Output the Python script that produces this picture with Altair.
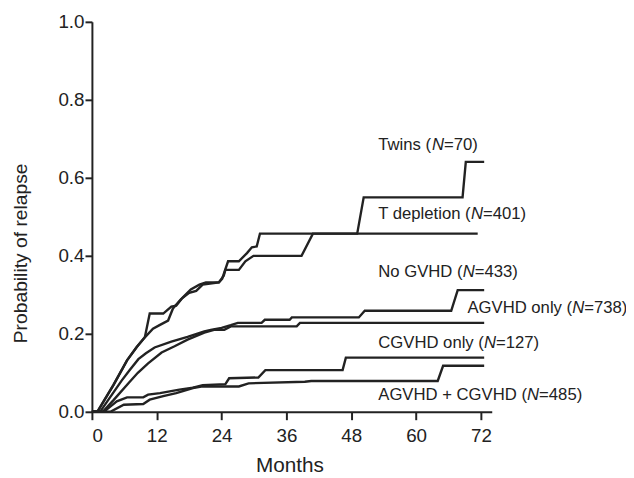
import altair as alt
import pandas as pd

# ---- curve data (months, cumulative probability of relapse) ----
twins_x = [0, 1, 4.0, 6.5, 8.3, 9.8, 10.7, 13.2, 14.7, 15.6, 16.8, 18.3, 19.9, 21.1, 23.5, 24.1, 25.2, 27.2, 28.7, 29.6, 30.5, 31.1, 49.1, 50.3, 68.6, 69.2, 72.6]
twins_y = [0, 0, 0.069, 0.132, 0.166, 0.191, 0.252, 0.252, 0.270, 0.272, 0.293, 0.314, 0.326, 0.332, 0.332, 0.341, 0.386, 0.386, 0.407, 0.422, 0.424, 0.457, 0.457, 0.550, 0.550, 0.641, 0.641]

tdep_x = [0, 1, 4.0, 6.5, 8.3, 9.8, 11.3, 12.6, 14.1, 15.0, 16.5, 18.0, 19.3, 20.5, 23.5, 24.4, 24.7, 27.2, 28.4, 29.9, 38.8, 40.9, 71.4]
tdep_y = [0, 0, 0.069, 0.132, 0.166, 0.191, 0.213, 0.223, 0.234, 0.265, 0.289, 0.305, 0.310, 0.326, 0.332, 0.349, 0.364, 0.364, 0.386, 0.400, 0.400, 0.457, 0.457]

nogvhd_x = [0, 1.5, 3.0, 5.5, 7.0, 8.6, 10.0, 11.6, 14.7, 17.7, 20.8, 22.0, 24.0, 25.7, 27.0, 31.4, 32.0, 36.6, 37.0, 49.4, 50.5, 66.5, 67.7, 72.6]
nogvhd_y = [0, 0, 0.03, 0.08, 0.107, 0.135, 0.15, 0.165, 0.18, 0.192, 0.206, 0.21, 0.215, 0.222, 0.228, 0.228, 0.236, 0.236, 0.242, 0.242, 0.259, 0.259, 0.312, 0.312]

agvhd_x = [0, 2.0, 4.0, 6.8, 8.5, 10.4, 12.9, 15.3, 17.7, 20.8, 22.6, 24.5, 25.7, 37.9, 38.5, 72.6]
agvhd_y = [0, 0, 0.03, 0.074, 0.10, 0.124, 0.152, 0.168, 0.185, 0.203, 0.21, 0.21, 0.219, 0.219, 0.228, 0.228]

cgvhd_x = [0, 2.2, 4.6, 6.5, 9.5, 10.4, 12.6, 16.2, 18.7, 20.5, 24.7, 25.4, 30.8, 32.1, 46.4, 47.0, 72.6]
cgvhd_y = [0, 0, 0.027, 0.037, 0.037, 0.044, 0.048, 0.057, 0.062, 0.068, 0.071, 0.086, 0.088, 0.107, 0.107, 0.139, 0.139]

both_x = [0, 3.4, 5.9, 9.5, 10.7, 13.2, 15.6, 18.7, 20.5, 27.2, 29.0, 39.4, 40.6, 64.0, 65.0, 72.6]
both_y = [0, 0, 0.018, 0.02, 0.031, 0.04, 0.048, 0.061, 0.065, 0.065, 0.073, 0.077, 0.079, 0.079, 0.118, 0.118]

series = [
    ("Twins", twins_x, twins_y),
    ("T depletion", tdep_x, tdep_y),
    ("No GVHD", nogvhd_x, nogvhd_y),
    ("AGVHD only", agvhd_x, agvhd_y),
    ("CGVHD only", cgvhd_x, cgvhd_y),
    ("AGVHD + CGVHD", both_x, both_y),
]

# ---- labels ----
label_prefix = ["Twins (", "T depletion (", "No GVHD (", "AGVHD only (", "CGVHD only (", "AGVHD + CGVHD ("]
label_suffix = ["=70)", "=401)", "=433)", "=738)", "=127)", "=485)"]
label_x = [53.0, 53.0, 53.0, 69.5, 53.0, 53.0]
label_y = [0.685, 0.508, 0.358, 0.265, 0.175, 0.044]

x_ticks = [0, 12, 24, 36, 48, 60, 72]
y_ticks = [0.0, 0.2, 0.4, 0.6, 0.8, 1.0]

FONT = "Liberation Sans"
INK = "#222222"
LABEL_SIZE = 16.9

# Arial / Liberation Sans advance widths (per 1000 em)
W = {" ": 278, "(": 333, ")": 333, "=": 584, "+": 584, "N": 722, "T": 611, "w": 722,
     "i": 222, "n": 556, "s": 500, "d": 556, "e": 556, "p": 556, "l": 222, "t": 278,
     "o": 556, "G": 778, "V": 667, "H": 722, "D": 722, "A": 667, "C": 722, "y": 500}
for d in "0123456789":
    W[d] = 556


def text_width(s, size):
    return sum(W.get(c, 556) for c in s) * size / 1000.0


rows = []
for name, xs, ys in series:
    for i, (xv, yv) in enumerate(zip(xs, ys)):
        rows.append({"group": name, "i": i, "months": xv, "p": yv})
curves = pd.DataFrame(rows)

x_scale = alt.Scale(domain=[0, 74], nice=False, zero=False)
y_scale = alt.Scale(domain=[0, 1], nice=False)

lines = alt.Chart(curves).mark_line(
    color=INK, strokeWidth=2.4, strokeJoin="miter", interpolate="linear"
).encode(
    x=alt.X("months:Q", scale=x_scale,
            axis=alt.Axis(values=x_ticks, title="Months", titleX=200, titleY=43,
                          labelPadding=7, titleFontSize=21)),
    y=alt.Y("p:Q", scale=y_scale,
            axis=alt.Axis(values=y_ticks, format=".1f", title="Probability of relapse",
                          titleX=-62, titleY=234, titleFontSize=19.5, labelPadding=1,
                          tickSize=7)),
    detail="group:N",
    order="i:Q",
)

layers = [lines]
for k in range(len(label_prefix)):
    df = pd.DataFrame({"months": [label_x[k]], "p": [label_y[k]]})
    w1 = text_width(label_prefix[k], LABEL_SIZE)
    w2 = text_width("N", LABEL_SIZE)
    for txt, dx, style in [(label_prefix[k], 0, "normal"),
                           ("N", w1, "italic"),
                           (label_suffix[k], w1 + w2, "normal")]:
        layers.append(
            alt.Chart(df).mark_text(
                text=txt, align="left", baseline="middle", dx=dx,
                font=FONT, fontSize=LABEL_SIZE, fontStyle=style, color=INK
            ).encode(x=alt.X("months:Q", scale=x_scale), y=alt.Y("p:Q", scale=y_scale))
        )

chart = alt.layer(*layers).properties(
    width=405, height=395,
    autosize=alt.AutoSizeParams(type="none"),
    padding={"left": 85, "top": 11, "right": 136, "bottom": 62},
    background="white",
).configure_view(stroke=None).configure_axis(
    grid=False,
    labelFont=FONT, labelFontSize=19, labelColor=INK,
    titleFont=FONT, titleFontWeight="normal", titleColor=INK,
    domainColor=INK, domainWidth=2, tickColor=INK, tickWidth=2, tickSize=8,
)

chart.save("out.html", embed_options={"renderer": "svg", "actions": False})
